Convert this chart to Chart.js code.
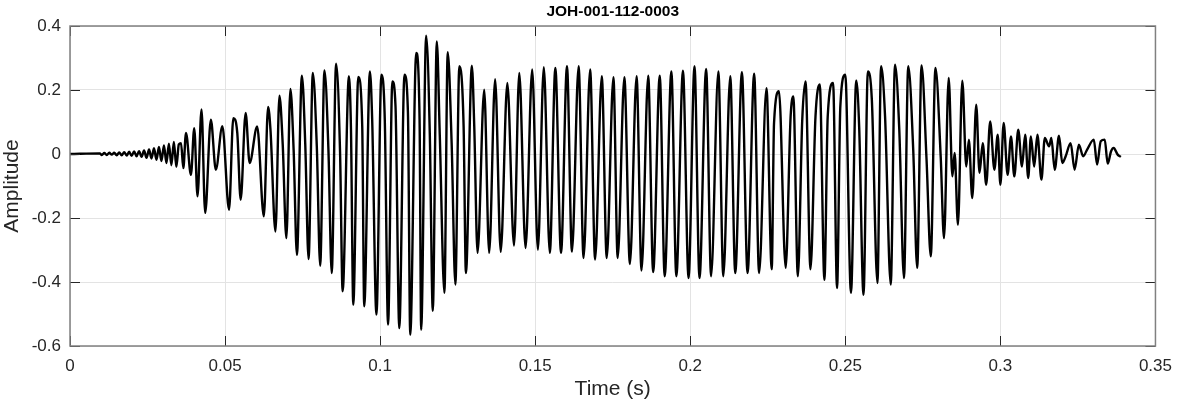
<!DOCTYPE html>
<html>
<head>
<meta charset="utf-8">
<script src="https://cdn.jsdelivr.net/npm/chart.js@4.4.1/dist/chart.umd.min.js"></script>
<style>
  html, body { margin: 0; padding: 0; background: #fff; }
  #wrap { width: 1182px; height: 404px; }
</style>
</head>
<body>
<div id="wrap"><canvas id="chart" width="1182" height="404"></canvas></div>
<script>
// Waveform: time in ms, amplitude
const onsetT = [0, 9.62, 10.26, 11.06, 11.86, 12.66, 13.46, 14.26, 15.06, 15.86, 16.67, 17.47, 18.27, 19.07, 19.87,
  20.67, 21.47, 22.27, 23.08, 23.88, 24.68, 25.48, 26.28, 27.08, 27.88, 28.68, 29.49, 30.29, 31.09, 31.89,
  32.69, 33.49, 34.29, 35.09];
const onsetA = [0, 0.002, -0.003, 0.003, -0.003, 0.004, -0.002, 0.004, -0.004, 0.005, -0.004, 0.006, -0.005, 0.007, -0.006,
  0.008, -0.007, 0.009, -0.009, 0.011, -0.012, 0.014, -0.014, 0.018, -0.018, 0.022, -0.022, 0.027, -0.028, 0.032,
  -0.035, 0.038, -0.04, 0.03];

const buildT = [35.80, 36.54, 37.40, 39.00, 40.06, 41.12, 42.40, 43.59, 45.42, 47.02, 49.13, 51.28, 52.66, 53.94,
  55.03, 56.63, 57.92, 60.35, 62.50, 63.88, 64.64, 66.25, 67.53, 68.59, 69.77, 71.06, 72.11, 73.17, 74.77,
  75.86, 76.92, 78.30, 79.58, 80.67, 82.05, 83.33, 84.39, 85.80, 87.08, 87.91, 89.93, 90.60, 91.34, 92.95,
  94.23, 94.87, 96.70, 97.43, 98.81, 100.41, 101.50, 102.56, 103.94, 104.96, 106.18, 107.85, 108.97, 109.71,
  111.63, 112.72, 113.23, 114.84, 116.02, 116.98, 118.27, 119.23, 120.73, 121.79, 123.07, 124.26, 125.54,
  126.92, 127.66, 129.58, 130.35, 131.41, 133.56, 135.16, 137.08, 138.88, 141.02, 143.17];
const buildA = [0.034, -0.044, 0.066, -0.065, 0.081, -0.132, 0.139, -0.184, 0.107, -0.049, 0.087, -0.174, 0.112, 0.066,
  -0.143, 0.128, -0.028, 0.086, -0.195, 0.147, 0.076, -0.242, 0.182, 0.03, -0.263, 0.203, 0.013, -0.315, 0.245,
  0.03, -0.328, 0.253, 0.024, -0.349, 0.261, 0.013, -0.372, 0.282, 0.005, -0.429, 0.243, 0.076, -0.471, 0.241,
  0.086, -0.476, 0.258, 0.11, -0.502, 0.248, 0.107, -0.533, 0.227, 0.149, -0.544, 0.248, 0.128, -0.565,
  0.316, 0.107, -0.549, 0.37, 0.06, -0.49, 0.352, 0.06, -0.434, 0.318, 0.03, -0.408, 0.274,
  0.086, -0.372, 0.276, 0.086, -0.309, 0.201, -0.309, 0.234, -0.306, 0.222, -0.286];

const steadyT = [144.87, 146.89, 149.03, 150.86, 152.78, 154.71, 156.50, 158.33, 160.25, 161.85, 164.00, 165.60,
  167.72, 169.32, 171.47, 173.07, 175.22, 176.60, 178.75, 180.54, 182.69, 184.29, 186.44, 188.04, 190.16,
  191.76, 193.91, 195.51, 197.65, 199.45, 201.37, 202.98, 205.12, 206.72, 209.06, 210.66, 212.90, 214.51,
  216.65, 218.48, 220.60, 222.20, 224.57, 226.27, 227.01, 228.61, 230.76, 232.36, 233.23, 234.70, 236.11,
  237.17, 238.77, 240.38, 241.76, 243.26, 244.32, 246.05, 247.33, 248.39, 249.99, 251.82, 253.52, 254.48,
  255.86, 257.27, 258.55, 260.35, 261.53, 262.81, 264.64, 266.02, 267.40, 268.91, 270.29, 271.89, 273.17,
  274.58, 276.19, 277.55, 279.06];
const steadyA = [0.253, -0.294, 0.264, -0.299, 0.271, -0.309, 0.269, -0.309, 0.274, -0.305, 0.274, -0.325,
  0.264, -0.33, 0.243, -0.325, 0.24, -0.325, 0.24, -0.344, 0.243, -0.364, 0.245, -0.369, 0.245,
  -0.382, 0.258, -0.382, 0.26, -0.388, 0.274, -0.388, 0.266, -0.382, 0.258, -0.382, 0.243, -0.372,
  0.256, -0.372, 0.251, -0.372, 0.206, -0.36, 0.096, 0.196, -0.356, 0.117, 0.18, -0.382, 0.107,
  0.227, -0.36, 0.117, 0.217, -0.393, 0.117, 0.222, -0.419, 0.149, 0.248, -0.434, 0.23, 0.08,
  -0.44, 0.258, 0.17, -0.403, 0.274, 0.118, -0.408, 0.279, 0.076, -0.388, 0.274, 0.014, -0.356,
  0.277, -0.018, -0.32, 0.269];

const decayT = [280.76, 281.82, 283.33, 284.52, 285.25, 286.31, 287.72, 289.00, 289.84, 290.93, 292.21, 293.26,
  294.32, 295.42, 296.70, 298.07, 299.13, 300.00, 301.05, 302.33, 303.42, 304.48, 305.76, 306.95, 308.00,
  308.97, 309.83, 310.89, 311.94, 313.23, 314.32, 315.69, 316.43, 317.52, 318.90, 319.96, 321.05, 322.65,
  323.93, 325.31, 326.69, 327.97, 330.12, 331.18, 332.36, 333.64, 334.60, 335.66, 336.53, 337.81, 338.85];
const decayA = [-0.01, -0.263, 0.238, -0.07, 0.003, -0.221, 0.229, -0.039, 0.045, -0.138, 0.154, -0.059,
  0.034, -0.096, 0.102, -0.049, 0.06, -0.096, 0.097, -0.065, 0.055, -0.07, 0.076, -0.039, 0.06,
  -0.075, 0.055, -0.039, 0.06, -0.08, 0.05, 0.024, 0.05, -0.049, 0.057, -0.028, -0.007, 0.034,
  -0.049, 0.029, -0.007, 0.014, 0.045, -0.033, 0.04, 0.045, -0.03, 0.008, 0.019, -0.002, -0.009];

const xTicks = [0, 0.05, 0.1, 0.15, 0.2, 0.25, 0.3, 0.35];
const yTicks = [-0.6, -0.4, -0.2, 0, 0.2, 0.4];
const chartTitle = 'JOH-001-112-0003';

const times = [].concat(onsetT, buildT, steadyT, decayT);
const amps = [].concat(onsetA, buildA, steadyA, decayA);
const points = times.map((t, i) => ({ x: t / 1000, y: amps[i] }));

const fontFam = 'Arial, "Liberation Sans", Helvetica, sans-serif';
const fmt = v => String(parseFloat(Number(v).toFixed(3)));

// box, inward ticks on all four sides and the title, like a MATLAB axes
const matlabAxes = {
  id: 'matlabAxes',
  afterDraw(chart) {
    const { ctx, chartArea: a, scales } = chart;
    const tl = 10;
    ctx.save();
    ctx.strokeStyle = '#262626';
    ctx.lineWidth = 1;
    ctx.beginPath();
    xTicks.forEach(v => {
      const px = Math.round(scales.x.getPixelForValue(v)) + 0.5;
      ctx.moveTo(px, a.bottom); ctx.lineTo(px, a.bottom - tl);
      ctx.moveTo(px, a.top); ctx.lineTo(px, a.top + tl);
    });
    yTicks.forEach(v => {
      const py = Math.round(scales.y.getPixelForValue(v)) + 0.5;
      ctx.moveTo(a.left, py); ctx.lineTo(a.left + tl, py);
      ctx.moveTo(a.right, py); ctx.lineTo(a.right - tl, py);
    });
    ctx.stroke();
    ctx.strokeStyle = '#808080';
    ctx.lineWidth = 1.5;
    ctx.strokeRect(a.left, a.top, a.right - a.left, a.bottom - a.top);
    ctx.fillStyle = '#000';
    ctx.font = 'bold 15.5px ' + fontFam;
    ctx.textAlign = 'center';
    ctx.textBaseline = 'middle';
    ctx.fillText(chartTitle, (a.left + a.right) / 2, 12);
    ctx.restore();
  }
};

new Chart(document.getElementById('chart'), {
  type: 'line',
  data: {
    datasets: [{
      data: points,
      borderColor: '#000',
      borderWidth: 2.4,
      pointRadius: 0,
      cubicInterpolationMode: 'monotone',
      fill: false
    }]
  },
  options: {
    responsive: false,
    animation: false,
    parsing: false,
    layout: { padding: { top: 26, right: 20, left: 0, bottom: 0 } },
    plugins: { legend: { display: false }, tooltip: { enabled: false }, title: { display: false } },
    scales: {
      x: {
        type: 'linear',
        min: 0,
        max: 0.35,
        afterBuildTicks: s => { s.ticks = xTicks.map(v => ({ value: v })); },
        afterFit: s => { s.height = 58; },
        ticks: { callback: fmt, color: '#262626', font: { family: fontFam, size: 17 }, padding: 10, maxRotation: 0, autoSkip: false },
        grid: { color: '#e3e3e3', drawTicks: false },
        border: { display: false },
        title: { display: true, text: 'Time (s)', color: '#262626', font: { family: fontFam, size: 21 }, padding: { top: 2, bottom: 2 } }
      },
      y: {
        min: -0.6,
        max: 0.4,
        afterBuildTicks: s => { s.ticks = yTicks.map(v => ({ value: v })); },
        afterFit: s => { s.width = 70; },
        ticks: { callback: fmt, color: '#262626', font: { family: fontFam, size: 17 }, padding: 9 },
        grid: { color: '#e3e3e3', drawTicks: false },
        border: { display: false },
        title: { display: true, text: 'Amplitude', color: '#262626', font: { family: fontFam, size: 21 }, padding: { top: 0, bottom: 2 } }
      }
    }
  },
  plugins: [matlabAxes]
});
</script>
</body>
</html>
